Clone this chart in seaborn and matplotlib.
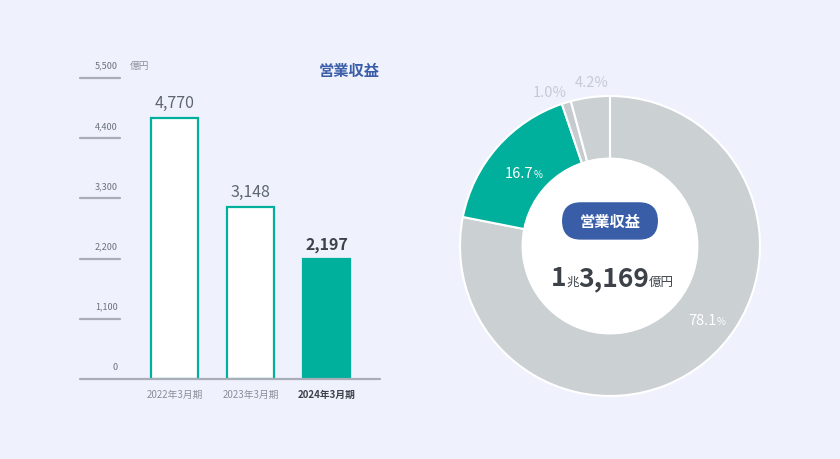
import numpy as np
import matplotlib
matplotlib.use("Agg")
import matplotlib.pyplot as plt
import seaborn as sns
from matplotlib.patches import Circle, FancyBboxPatch

# data
periods = ["2022年3月期", "2023年3月期", "2024年3月期"]
revenue = [4770, 3148, 2197]
bar_labels = ["4,770", "3,148", "2,197"]
y_ticks = [0, 1100, 2200, 3300, 4400, 5500]
y_tick_labels = ["0", "1,100", "2,200", "3,300", "4,400", "5,500"]

share_values = [78.1, 16.7, 1.0, 4.2]
share_labels = ["78.1", "16.7", "1.0", "4.2"]

BG = "#eff2fd"
TEAL = "#00b09c"
GRAY = "#cbd0d3"
BLUE = "#3a5da8"
LINE = "#a9adb8"
DARK = "#3c4248"

sns.set_theme(style="white")
plt.rcParams['font.family'] = ['Noto Sans CJK JP', 'DejaVu Sans']

W, H = 840, 460
fig = plt.figure(figsize=(8.4, 4.6), dpi=100)
fig.patch.set_facecolor(BG)


def px(x0, y0, x1, y1):
    # pixel box (top-left origin) -> figure fraction rect
    return [x0 / W, 1 - y1 / H, (x1 - x0) / W, (y1 - y0) / H]


# ---- bar chart ----
ax = fig.add_axes(px(80, 79, 380, 380))
ax.set_facecolor(BG)
sns.barplot(x=periods, y=revenue, hue=periods, legend=False,
            palette=["white", "white", TEAL], width=0.62, ax=ax,
            saturation=1)
for p in ax.patches:
    p.set_edgecolor(TEAL)
    p.set_linewidth(1.6)
ax.set_xlim(-1.25, 2.70)
ax.set_ylim(0, 5500)
for s in ax.spines.values():
    s.set_visible(False)
ax.set_xticks([])
ax.set_yticks([])
ax.set_xlabel("")
ax.set_ylabel("")

for v, lab in zip(y_ticks, y_tick_labels):
    if v == 0:
        ax.axhline(0, color=LINE, lw=1.6, xmin=0, xmax=1, clip_on=False)
    else:
        ax.axhline(v, color=LINE, lw=1.6, xmin=0, xmax=40 / 300, clip_on=False)
    ax.annotate(lab, xy=(38 / 300, v), xycoords=("axes fraction", "data"),
                xytext=(0, 6), textcoords="offset points",
                ha="right", va="bottom", fontsize=6.5, color="#6b717c")
ax.annotate("億円", xy=(50 / 300, 5500), xycoords=("axes fraction", "data"),
            xytext=(0, 6), textcoords="offset points",
            ha="left", va="bottom", fontsize=7, color="#8a8f99")
ax.text(1.0, 1.0, "営業収益", transform=ax.transAxes, ha="right", va="bottom",
        fontsize=11, fontweight="bold", color=BLUE)

for i, (v, lab) in enumerate(zip(revenue, bar_labels)):
    last = i == len(revenue) - 1
    ax.annotate(lab, xy=(i, v), xytext=(0, 5), textcoords="offset points",
                ha="center", va="bottom", fontsize=11.5,
                fontweight="bold" if last else "normal",
                color=DARK if last else "#5d6670")
    ax.annotate(periods[i], xy=(i, 0), xytext=(0, -11), textcoords="offset points",
                ha="center", va="center", fontsize=7,
                fontweight="bold" if last else "normal",
                color=DARK if last else "#8a8f99", annotation_clip=False)

# ---- donut ----
ax2 = fig.add_axes(px(460, 97, 760, 397))
ax2.set_facecolor(BG)
ax2.pie(share_values, colors=[GRAY, TEAL, "#c6cbcf", GRAY], startangle=90,
        counterclock=False, radius=1.0,
        wedgeprops=dict(width=0.42, edgecolor="white", linewidth=1.5))
ax2.add_patch(Circle((0, 0), 0.585, color="white", zorder=3))
ax2.set_xlim(-1, 1)
ax2.set_ylim(-1, 1)
ax2.set_aspect("equal")
ax2.axis("off")


def pct_label(x, y, num, color, size, psize):
    ax2.text(x, y, num, ha="right", va="baseline", fontsize=size, color=color, zorder=5)
    ax2.text(x, y, "%", ha="left", va="baseline", fontsize=psize, color=color, zorder=5)


pct_label(0.71, -0.52, share_labels[0], "white", 10.5, 7)
pct_label(-0.51, 0.46, share_labels[1], "white", 10.5, 7)
ax2.text(-0.40, 1.00, share_labels[2] + "%", ha="center", va="baseline",
         fontsize=10.5, color="#c6cad6", clip_on=False)
ax2.text(-0.12, 1.07, share_labels[3] + "%", ha="center", va="baseline",
         fontsize=10.5, color="#c6cad6", clip_on=False)

# center badge
ax2.add_patch(FancyBboxPatch((-0.315, 0.047), 0.63, 0.24,
                             boxstyle="round,pad=0,rounding_size=0.12",
                             color=BLUE, zorder=4))
ax2.text(0, 0.167, "営業収益", ha="center", va="center", fontsize=11,
         fontweight="bold", color="white", zorder=5)

# total, pieces chained left to right
renderer = fig.canvas.get_renderer()
pieces = [("1", 19, "bold"), ("兆", 9, "normal"), ("3,169", 19, "bold"), ("億円", 9, "normal")]
x = 551
for txt, size, weight in pieces:
    t = fig.text(x / W, 1 - 286 / H, txt, ha="left", va="baseline", fontsize=size,
                 fontweight=weight, color=DARK)
    bb = t.get_window_extent(renderer)
    x = x + bb.width - 0.5

fig.savefig("out.png", dpi=100, facecolor=BG)
